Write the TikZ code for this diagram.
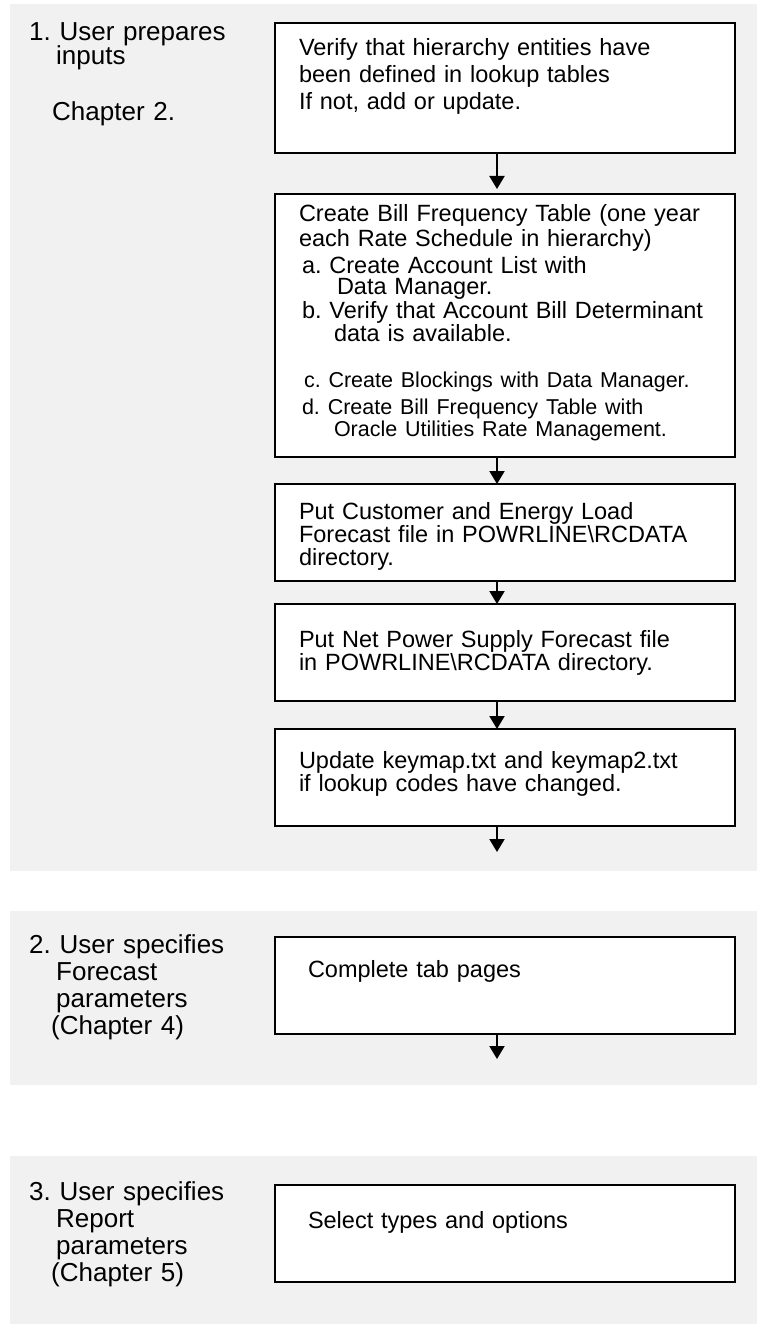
\documentclass[tikz,border=0pt]{standalone}
\usepackage{fontspec}
\setmainfont{Liberation Sans}
\usetikzlibrary{positioning, arrows.meta}
\frenchspacing

\definecolor{panelgray}{RGB}{241,241,241}

\tikzset{
    stepbox/.style={draw, line width=2pt, fill=white, outer sep=0pt, inner xsep=24pt, inner ysep=0pt, minimum width=460pt, text width=412pt, align=left, font=\fontsize{23.5}{23}\selectfont},
    steplabel/.style={inner sep=0pt, anchor=base west, text width=230pt, align=left, font=\fontsize{26}{27}\selectfont},
    flow/.style={-{Triangle[width=15pt,length=13pt]}, line width=2pt}
}

\begin{document}
\begin{tikzpicture}[x=1pt, y=-1pt]
        \useasboundingbox (0,0) rectangle (757,1324);
        \fill[panelgray] (10,4) rectangle (757,871);
        \fill[panelgray] (10,911) rectangle (757,1085);
        \fill[panelgray] (10,1156) rectangle (757,1324);
        %---------------------------
        \node[stepbox, anchor=north west, text height=33pt, text depth=97pt] (verify) at (275,23) {Verify that hierarchy entities have\\[4pt] been defined in lookup tables\\[4pt] If not, add or update.};
        \node[stepbox, below=41pt of verify, text height=28pt, text depth=235pt] (bft) {Create Bill Frequency Table (one year\\[2pt]
            each Rate Schedule in hierarchy)\\[4pt]
            \hspace*{3pt}a. Create Account List with\\[-2pt]
            \hspace*{38pt}Data Manager.\\[1pt]
            \hspace*{3pt}b. Verify that Account Bill Determinant\\
            \hspace*{35pt}data is available.\\[23pt]
            {\fontsize{21.5}{23}\selectfont\hspace*{5pt}c. Create Blockings with Data Manager.\\[4pt]
            \hspace*{3pt}d. Create Bill Frequency Table with\\[-1pt]
            \hspace*{35pt}Oracle Utilities Rate Management.}};
        \node[stepbox, below=27pt of bft, text height=35pt, text depth=62pt] (load) {Put Customer and Energy Load\\ Forecast file in POWRLINE\textbackslash RCDATA\\ directory.};
        \node[stepbox, below=23pt of load, text height=43pt, text depth=54pt] (supply) {Put Net Power Supply Forecast file\\ in POWRLINE\textbackslash RCDATA directory.};
        \node[stepbox, below=28pt of supply, text height=39pt, text depth=58pt] (keymap) {Update keymap.txt and keymap2.txt\\ if lookup codes have changed.};
        \node[stepbox, below=111pt of keymap, inner xsep=33pt, text width=394pt, text height=40pt, text depth=57pt] (tabs) {Complete tab pages};
        \node[stepbox, below=151pt of tabs, inner xsep=33pt, text width=394pt, text height=43pt, text depth=54pt] (select) {Select types and options};
        %---------------------------
        \node[steplabel] (prep) at (29,41) {1. User prepares\\[-3pt] \hspace*{27pt}inputs\\[29pt] \hspace*{23pt}Chapter 2.};
        \node[steplabel] (fcast) at (29,953) {2. User specifies\\ \hspace*{27pt}Forecast\\ \hspace*{27pt}parameters\\ \hspace*{22pt}(Chapter 4)};
        \node[steplabel] (report) at (29,1200) {3. User specifies\\ \hspace*{27pt}Report\\ \hspace*{27pt}parameters\\ \hspace*{22pt}(Chapter 5)};
        %---------------------------
        \coordinate (prepend) at ([xshift=-8pt, yshift=-26pt]keymap.south);
        \coordinate (fcastend) at ([xshift=-8pt, yshift=-25pt]tabs.south);
        \path[flow]
        ([xshift=-8pt]verify.south) edge [shorten >=5pt] ([xshift=-8pt]bft.north)
        ([xshift=-8pt]bft.south) edge ([xshift=-8pt]load.north)
        ([xshift=-8pt]load.south) edge ([xshift=-8pt]supply.north)
        ([xshift=-8pt]supply.south) edge ([xshift=-8pt]keymap.north)
        ([xshift=-8pt]keymap.south) edge (prepend)
        ([xshift=-8pt]tabs.south) edge (fcastend);
\end{tikzpicture}
\end{document}
